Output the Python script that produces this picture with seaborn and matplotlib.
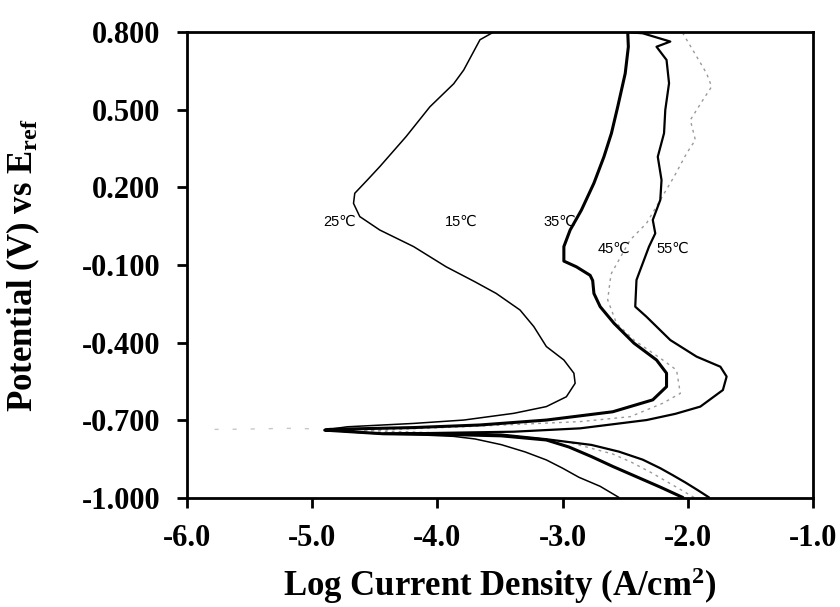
import matplotlib
matplotlib.use("Agg")
import matplotlib.pyplot as plt
import numpy as np
import pandas as pd
import seaborn as sns

# polarization curves (log i, E)
x_25 = [-2.55, -2.70, -2.87, -3.00, -3.13, -3.30, -3.49, -3.70, -3.87, -4.20, -4.43, -4.70, -4.90,
        -4.72, -4.19, -3.79, -3.39, -3.13, -2.97, -2.90, -2.91, -2.99, -3.13,
        -3.23, -3.34, -3.53, -3.70, -3.93, -4.19, -4.46, -4.62, -4.67, -4.66,
        -4.56, -4.46, -4.25, -4.06, -3.87, -3.79, -3.66, -3.55]
y_25 = [-0.998, -0.955, -0.920, -0.885, -0.853, -0.822, -0.794, -0.772, -0.762, -0.755, -0.753, -0.745, -0.737,
        -0.725, -0.712, -0.699, -0.673, -0.647, -0.609, -0.557, -0.518, -0.467, -0.415,
        -0.338, -0.274, -0.210, -0.165, -0.107, -0.029, 0.035, 0.087, 0.138, 0.177,
        0.228, 0.280, 0.396, 0.511, 0.600, 0.653, 0.770, 0.800]

x_35 = [-2.04, -2.22, -2.41, -2.60, -2.77, -2.95, -3.13, -3.49, -3.90, -4.43, -4.90,
        -4.86, -4.19, -3.66, -3.13, -2.60, -2.28, -2.17, -2.17, -2.25, -2.43,
        -2.59, -2.70, -2.75, -2.76, -2.78, -2.89, -2.99, -2.99, -2.94, -2.85,
        -2.75, -2.67, -2.61, -2.56, -2.50, -2.475, -2.48]
y_35 = [-0.998, -0.958, -0.918, -0.878, -0.840, -0.803, -0.776, -0.760, -0.755, -0.752, -0.738,
        -0.735, -0.728, -0.718, -0.699, -0.667, -0.621, -0.570, -0.518, -0.467, -0.402,
        -0.325, -0.261, -0.210, -0.160, -0.140, -0.107, -0.085, -0.029, 0.035, 0.112,
        0.216, 0.318, 0.409, 0.511, 0.640, 0.743, 0.800]

x_45 = [-1.95, -2.12, -2.30, -2.45, -2.60, -2.95, -3.40, -4.20, -4.60,
        -3.80, -2.86, -2.46, -2.20, -2.06, -2.09, -2.20, -2.43, -2.57, -2.64,
        -2.62, -2.61, -2.46, -2.33, -2.11, -2.01, -1.94, -1.98, -1.88, -1.81,
        -1.85, -1.96, -2.04]
y_45 = [-0.998, -0.950, -0.900, -0.862, -0.830, -0.785, -0.760, -0.745, -0.740,
        -0.725, -0.705, -0.686, -0.634, -0.596, -0.506, -0.467, -0.390, -0.325, -0.235,
        -0.158, -0.132, -0.003, 0.061, 0.241, 0.331, 0.383, 0.460, 0.537, 0.589,
        0.640, 0.730, 0.795]

x_55 = [-1.83, -1.92, -2.02, -2.12, -2.22, -2.36, -2.55, -2.77, -3.13, -3.49, -4.00, -4.43,
        -3.39, -2.86, -2.33, -2.10, -1.90, -1.72, -1.69, -1.74, -1.93, -2.14, -2.33,
        -2.42, -2.41, -2.39, -2.31, -2.26, -2.28, -2.22, -2.21, -2.24, -2.19,
        -2.18, -2.15, -2.17, -2.25, -2.14, -2.36, -2.50]
y_55 = [-0.998, -0.970, -0.940, -0.912, -0.885, -0.852, -0.821, -0.795, -0.773, -0.755, -0.752, -0.752,
        -0.744, -0.731, -0.699, -0.675, -0.647, -0.583, -0.531, -0.493, -0.454, -0.390, -0.300,
        -0.261, -0.158, -0.132, -0.029, 0.022, 0.074, 0.151, 0.228, 0.318, 0.409,
        0.499, 0.602, 0.692, 0.743, 0.763, 0.795, 0.800]

x_15 = [-5.78, -5.68, -5.20, -4.95]
y_15 = [-0.735, -0.735, -0.731, -0.733]

labels = ["25℃", "15℃", "35℃", "45℃", "55℃"]
label_x = [-4.78, -3.81, -3.02, -2.59, -2.12]
label_y = [0.067, 0.067, 0.067, -0.036, -0.036]

yticks = [0.8, 0.5, 0.2, -0.1, -0.4, -0.7, -1.0]
xticks = [-6.0, -5.0, -4.0, -3.0, -2.0, -1.0]

sns.set_style("ticks")
plt.rcParams["font.family"] = ["Liberation Serif", "DejaVu Serif"]
plt.rcParams["axes.unicode_minus"] = False
plt.rcParams["mathtext.fontset"] = "custom"
plt.rcParams["mathtext.rm"] = "Liberation Serif:bold"
plt.rcParams["mathtext.bf"] = "Liberation Serif:bold"
plt.rcParams["mathtext.it"] = "Liberation Serif:bold"
for key in ["text.color", "axes.labelcolor", "xtick.color", "ytick.color"]:
    plt.rcParams[key] = "black"

fig = plt.figure(figsize=(8.4, 6.07), dpi=100)
ax = fig.add_axes([0.2226, 0.1796, 0.7453, 0.7677])

curves = [
    (x_15, y_15, "#c8c8c8", 1.0, (0, (3, 10))),
    (x_25, y_25, "black", 1.1, "-"),
    (x_45, y_45, "#9a9a9a", 1.0, (0, (2, 3))),
    (x_55, y_55, "black", 1.6, "-"),
    (x_35, y_35, "black", 2.2, "-"),
]
for xs, ys, col, lw, ls in curves:
    df = pd.DataFrame({"logi": xs, "E": ys})
    sns.lineplot(data=df, x="logi", y="E", sort=False, estimator=None,
                 color=col, linewidth=lw, linestyle=ls, ax=ax)

for t, tx, ty in zip(labels, label_x, label_y):
    ax.text(tx, ty, t, fontsize=10.5, family=["Liberation Sans", "DejaVu Sans"],
            ha="center", va="center", color="black")

ax.set_xlim(-6.0, -1.0)
ax.set_ylim(-1.0, 0.8)
ax.set_xticks(xticks)
ax.set_yticks(yticks)
ax.set_xticklabels([f"{v:.1f}" for v in xticks])
ax.set_yticklabels([f"{v:.3f}" for v in yticks])
ax.tick_params(axis="both", direction="out", length=7, width=2.0, labelsize=22,
               colors="black")
ax.tick_params(axis="y", pad=12)
ax.tick_params(axis="x", pad=12)
for lab in ax.get_xticklabels() + ax.get_yticklabels():
    lab.set_fontweight("bold")
for sp in ax.spines.values():
    sp.set_visible(True)
    sp.set_linewidth(2.0)
    sp.set_color("black")

ax.set_xlabel("Log Current Density (A/cm$^{2}$)", fontsize=25, fontweight="bold")
ax.set_ylabel("Potential (V) vs E$_{ref}$", fontsize=25, fontweight="bold")
ax.xaxis.set_label_coords(0.5, -0.145)
ax.yaxis.set_label_coords(-0.232, 0.5)

fig.savefig("out.png", dpi=100)
